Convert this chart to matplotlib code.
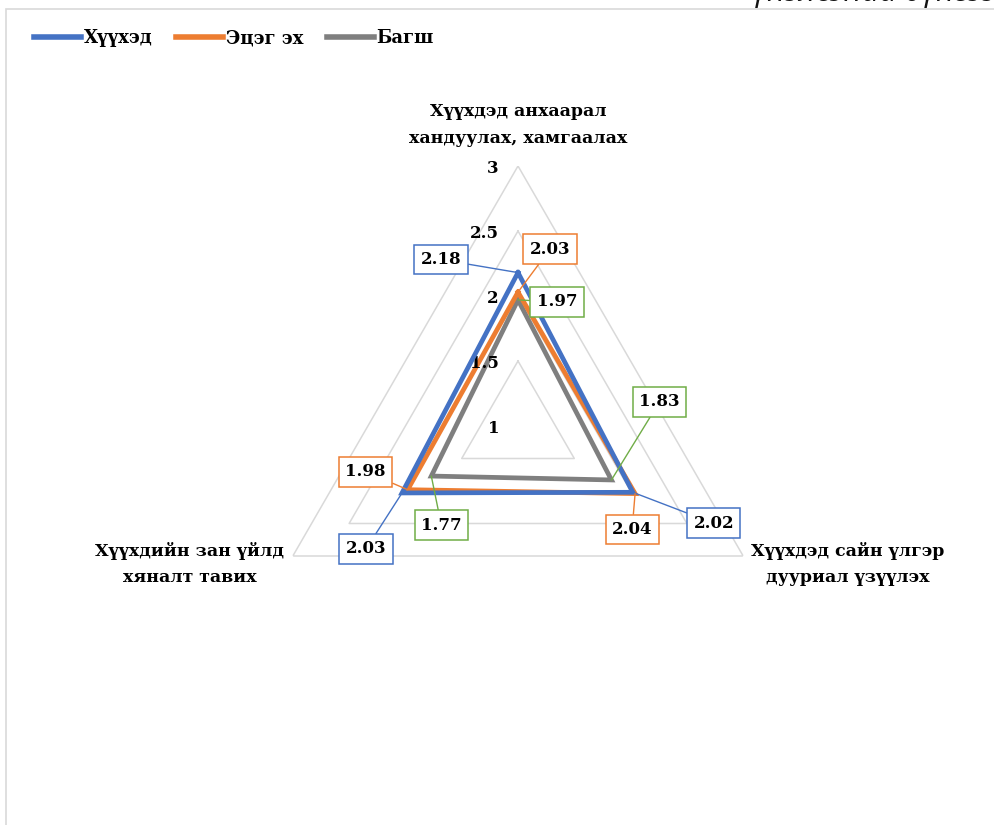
import numpy as np
import matplotlib
matplotlib.use("Agg")
import matplotlib.pyplot as plt
from matplotlib.patches import Rectangle
from matplotlib.lines import Line2D

# data
categories = [
    "Хүүхдэд анхаарал\nхандуулах, хамгаалах",
    "Хүүхдэд сайн үлгэр\nдууриал үзүүлэх",
    "Хүүхдийн зан үйлд\nхяналт тавих",
]
series_names = ["Хүүхэд", "Эцэг эх", "Багш"]
child_vals = [2.18, 2.02, 2.03]
parent_vals = [2.03, 2.04, 1.98]
teacher_vals = [1.97, 1.83, 1.77]
grid_levels = [1, 1.5, 2, 2.5, 3]
tick_labels = ["1", "1.5", "2", "2.5", "3"]

line_colors = ["#4472C4", "#ED7D31", "#7F7F7F"]
box_colors = ["#4472C4", "#ED7D31", "#70AD47"]

# label offsets (pixels) for each series / category
label_offsets = [
    [(-77, 13), (81, -31), (-36, -56)],
    [(32, 43), (-3, -36), (-42, 18)],
    [(39, -2), (48, 78), (10, -49)],
]

FONT = "DejaVu Serif"
W, H = 995, 825
fig = plt.figure(figsize=(W / 100, H / 100), dpi=100)

# chart border (cropped)
fig.patches.append(Rectangle((6 / W, -0.1), 1.2, (H - 9) / H + 0.1, transform=fig.transFigure,
                             fill=False, edgecolor="#D9D9D9", linewidth=1.2))

# partially visible caption at the top edge
fig.text(753 / W, 1 - 1.5 / H, "үнэлсэний дүнгээр", fontsize=22, style="italic",
         family="Open Sans", color="#111111", ha="left", va="baseline")

cx, cy, R = 518, 426, 260
ax = fig.add_axes([(cx - R) / W, (H - cy - R) / H, 2 * R / W, 2 * R / H], projection="polar")
ax.set_theta_zero_location("N")
ax.set_theta_direction(-1)
ax.set_ylim(1, 3)
ax.grid(False)
ax.set_xticks([])
ax.set_yticks([])
ax.spines["polar"].set_visible(False)
ax.patch.set_alpha(0)

angles = np.deg2rad([0, 120, 240])
closed = np.append(angles, angles[0])

for lvl in grid_levels[1:]:
    ax.plot(closed, [lvl] * 4, color="#D9D9D9", linewidth=1.1, zorder=1)

for lvl, lab in zip(grid_levels, tick_labels):
    ax.annotate(lab, xy=(0, lvl), xytext=(-19, -2), textcoords="offset pixels",
                ha="right", va="center", fontsize=12, fontweight="bold", family=FONT)

all_vals = [child_vals, parent_vals, teacher_vals]
for i, vals in enumerate(all_vals):
    ax.plot(closed, vals + [vals[0]], color=line_colors[i], linewidth=3.4,
            solid_joinstyle="miter", zorder=3 - i * 0.1)

for i, vals in enumerate(all_vals):
    for j, v in enumerate(vals):
        dx, dy = label_offsets[i][j]
        ax.annotate(f"{v:.2f}", xy=(angles[j], v), xytext=(dx, dy), textcoords="offset pixels",
                    ha="center", va="center", fontsize=12, fontweight="bold", family=FONT,
                    bbox=dict(boxstyle="square,pad=0.38", fc="white", ec=box_colors[i], lw=1.1),
                    arrowprops=dict(arrowstyle="-", color=box_colors[i], lw=1, shrinkA=0, shrinkB=0),
                    zorder=6)

cat_offsets = [(0, 41), (105, -8), (-103, -8)]
for j, cat in enumerate(categories):
    dx, dy = cat_offsets[j]
    ax.annotate(cat, xy=(angles[j], 3), xytext=(dx, dy), textcoords="offset pixels",
                ha="center", va="center", fontsize=12.5, fontweight="bold", family=FONT,
                linespacing=1.75, annotation_clip=False)

handles = [Line2D([0], [0], color=c, linewidth=4) for c in line_colors]
fig.legend(handles, series_names, loc="upper left", bbox_to_anchor=(18 / W, 1 - 13 / H),
           ncol=3, frameon=False, handlelength=2.6, handletextpad=0.15, columnspacing=1.3,
           prop=dict(family=FONT, weight="bold", size=13))

fig.savefig("out.png", dpi=100)
